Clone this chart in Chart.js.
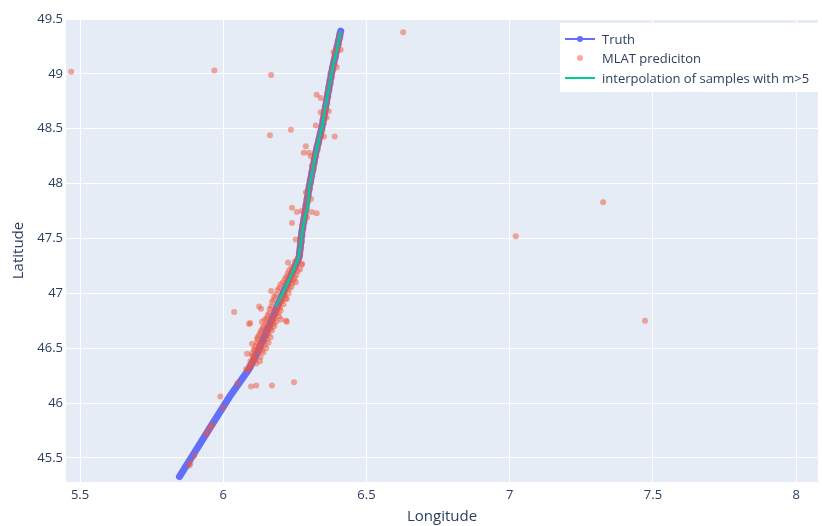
<!DOCTYPE html>
<html>
<head>
<meta charset="utf-8">
<script src="https://cdn.jsdelivr.net/npm/chart.js@4.4.1/dist/chart.umd.min.js"></script>
<style>
  html, body { margin: 0; padding: 0; background: #fff; overflow: hidden; }
</style>
</head>
<body>
<canvas id="chart" width="822" height="526"></canvas>
<script>
// ground truth track (lon, lat)
const truthLon = [5.847, 5.90, 5.96, 6.02, 6.09, 6.125, 6.195, 6.265, 6.274, 6.30, 6.323, 6.345, 6.378, 6.41];
const truthLat = [45.33, 45.55, 45.80, 46.05, 46.31, 46.49, 46.92, 47.33, 47.55, 47.97, 48.28, 48.52, 49.01, 49.39];

// interpolation of samples with m>5
const interpLon = [6.184, 6.215, 6.24, 6.262, 6.27, 6.278, 6.287, 6.296, 6.300, 6.312, 6.323, 6.345, 6.36, 6.378, 6.395, 6.41];
const interpLat = [46.88, 47.04, 47.18, 47.32, 47.45, 47.60, 47.72, 47.80, 47.97, 48.12, 48.28, 48.52, 48.75, 49.01, 49.20, 49.39];

// MLAT predictions sitting on the track
const mlatOnTrack = [
  [5.882,45.43],[5.885,45.45],[5.899,45.52],[5.941,45.72],[5.945,45.74],[5.955,45.78],[5.962,45.80],[6.000,45.96],[6.049,46.18],
  [6.085,46.30],[6.097,46.33],[6.098,46.36],[6.110,46.39],[6.108,46.42],[6.120,46.45],[6.121,46.48],[6.131,46.51],
  [6.130,46.54],[6.142,46.57],[6.140,46.60],[6.152,46.63],[6.150,46.66],[6.162,46.69],[6.160,46.72],[6.172,46.75],
  [6.170,46.78],[6.182,46.81],[6.180,46.84],[6.192,46.87],[6.190,46.90],[6.202,46.93],[6.200,46.96],[6.212,46.99],
  [6.210,47.02],[6.222,47.05],[6.220,47.08],[6.232,47.11],[6.230,47.14],[6.242,47.17],[6.240,47.20],[6.252,47.23],
  [6.250,47.26],[6.262,47.29],[6.260,47.32],[6.269,47.35],[6.264,47.38],[6.272,47.41],[6.267,47.44],[6.275,47.47],
  [6.269,47.50],[6.277,47.53],[6.272,47.56],[6.280,47.59],[6.275,47.62],[6.284,47.65],[6.279,47.68],[6.288,47.71],
  [6.283,47.74],[6.292,47.77],[6.286,47.80],[6.295,47.83],[6.290,47.86],[6.299,47.89],[6.294,47.92],[6.303,47.95],
  [6.298,47.98],[6.307,48.01],[6.302,48.04],[6.311,48.07],[6.307,48.10],[6.316,48.13],[6.311,48.16],[6.320,48.19],
  [6.316,48.22],[6.325,48.25],[6.320,48.28],[6.330,48.31],[6.325,48.34],[6.335,48.37],[6.331,48.40],[6.341,48.43],
  [6.336,48.46],[6.346,48.49],[6.342,48.52],[6.351,48.55],[6.346,48.58],[6.355,48.61],[6.350,48.64],[6.359,48.67],
  [6.354,48.70],[6.363,48.73],[6.358,48.76],[6.367,48.79],[6.362,48.82],[6.371,48.85],[6.366,48.88],[6.375,48.91],
  [6.370,48.94],[6.379,48.97],[6.374,49.00],[6.384,49.03],[6.379,49.06],[6.389,49.09],[6.384,49.12],[6.394,49.15],
  [6.389,49.18],[6.399,49.21],[6.394,49.24],[6.404,49.27],[6.399,49.30],[6.409,49.33],[6.404,49.36]
];

// MLAT predictions scattered close around the track
const mlatCloud = [
  [6.105,46.40],[6.128,46.38],[6.100,46.45],[6.140,46.46],[6.112,46.52],[6.150,46.50],[6.118,46.58],[6.158,46.55],
  [6.125,46.62],[6.165,46.60],[6.132,46.66],[6.170,46.66],[6.140,46.70],[6.178,46.70],[6.145,46.76],[6.185,46.74],
  [6.155,46.80],[6.195,46.79],[6.162,46.86],[6.200,46.84],[6.170,46.92],[6.210,46.90],[6.178,46.97],[6.218,46.95],
  [6.190,47.03],[6.228,47.00],[6.200,47.08],[6.238,47.06],[6.215,47.13],[6.245,47.12],[6.225,47.18],[6.255,47.17],
  [6.238,47.24],[6.268,47.22],[6.250,47.29],[6.275,47.27],
  [6.095,46.38],[6.115,46.36],[6.102,46.43],[6.130,46.42],[6.108,46.48],[6.135,46.48],[6.118,46.55],[6.145,46.53],
  [6.120,46.60],[6.152,46.58],[6.130,46.64],[6.158,46.63],[6.138,46.68],[6.165,46.68],[6.150,46.72],[6.175,46.72],
  [6.152,46.77],[6.180,46.77],[6.160,46.82],[6.190,46.82],[6.168,46.88],[6.198,46.87],[6.175,46.94],[6.205,46.93],
  [6.185,46.99],[6.215,46.98],[6.195,47.05],[6.230,47.04],[6.208,47.10],[6.240,47.09],[6.220,47.15],[6.250,47.14],
  [6.230,47.21],[6.260,47.20],
  [6.385,49.20],[6.410,49.22],[6.396,49.06],[6.326,48.81],[6.340,48.78],[6.340,48.65],[6.368,48.66],[6.361,48.60],
  [6.323,48.53],[6.351,48.43],[6.288,48.34],[6.281,48.28],[6.299,48.28],[6.306,48.25],[6.309,48.16],[6.288,47.92],
  [6.306,47.86],[6.240,47.78],[6.257,47.74],[6.274,47.75],[6.309,47.74],[6.326,47.73],[6.240,47.64],[6.292,47.69],
  [6.253,47.49],[6.274,47.26],[6.226,47.28],[6.253,47.10],[6.222,46.95],[6.167,47.02],[6.125,46.88],[6.132,46.86],
  [6.219,46.75],[6.222,46.74],[6.201,46.76],[6.135,46.74],[6.094,46.73],[6.090,46.72],[6.100,46.54],[6.108,46.49],
  [6.083,46.45],[6.125,46.52],[6.090,46.34],[6.080,46.31],[6.097,46.15],[6.115,46.16],[6.170,46.16],[6.247,46.19],
  [5.990,46.06],[6.038,46.83]
];

// MLAT predictions far off the track
const mlatOutliers = [
  [5.469,49.02],[5.969,49.03],[6.167,48.99],[6.628,49.38],[6.163,48.44],[6.236,48.49],[6.389,48.43],
  [7.326,47.83],[7.021,47.52],[7.472,46.75]
];

const xTicks = [5.5, 6, 6.5, 7, 7.5, 8];
const yTicks = [45.5, 46, 46.5, 47, 47.5, 48, 48.5, 49, 49.5];

const legendItems = ['Truth', 'MLAT prediciton', 'interpolation of samples with m>5'];

const toXY = (lons, lats) => lons.map((x, i) => ({ x: x, y: lats[i] }));
const pairsXY = pairs => pairs.map(p => ({ x: p[0], y: p[1] }));

const BLUE = '#636efa';
const RED = 'rgba(239,85,59,0.5)';
const GREEN = '#00cc96';
const TEXT = '#2a3f5f';
const FONT = "'Open Sans', 'Noto Sans', sans-serif";

Chart.defaults.font.family = FONT;
Chart.defaults.color = TEXT;

const plotBg = {
  id: 'plotBg',
  beforeDraw(chart) {
    const { ctx, chartArea: a } = chart;
    ctx.save();
    ctx.fillStyle = '#E5ECF6';
    ctx.fillRect(a.left, a.top, a.right - a.left, a.bottom - a.top);
    ctx.restore();
  }
};

const plotlyLegend = {
  id: 'plotlyLegend',
  afterDraw(chart) {
    const ctx = chart.ctx;
    ctx.save();
    ctx.fillStyle = '#ffffff';
    ctx.fillRect(560, 23, 280, 69);
    const rows = [39, 58, 78];
    ctx.font = '13px ' + FONT;
    ctx.textBaseline = 'middle';
    ctx.fillStyle = TEXT;
    legendItems.forEach((t, i) => ctx.fillText(t, 602, rows[i] + 1));
    // Truth: line + marker
    ctx.strokeStyle = BLUE; ctx.lineWidth = 2;
    ctx.beginPath(); ctx.moveTo(565, rows[0]); ctx.lineTo(595, rows[0]); ctx.stroke();
    ctx.fillStyle = BLUE;
    ctx.beginPath(); ctx.arc(580, rows[0], 3, 0, Math.PI * 2); ctx.fill();
    // MLAT marker
    ctx.fillStyle = RED;
    ctx.beginPath(); ctx.arc(580, rows[1], 3, 0, Math.PI * 2); ctx.fill();
    // interpolation line
    ctx.strokeStyle = GREEN;
    ctx.beginPath(); ctx.moveTo(565, rows[2]); ctx.lineTo(595, rows[2]); ctx.stroke();
    ctx.restore();
  }
};

new Chart(document.getElementById('chart'), {
  type: 'scatter',
  data: {
    datasets: [
      {
        label: legendItems[2],
        data: toXY(interpLon, interpLat),
        showLine: true,
        borderColor: GREEN,
        borderWidth: 2.5,
        pointRadius: 0,
        order: 0
      },
      {
        label: legendItems[1],
        data: pairsXY(mlatOnTrack.concat(mlatCloud, mlatOutliers)),
        backgroundColor: RED,
        borderWidth: 0,
        pointRadius: 3,
        order: 1
      },
      {
        label: legendItems[0],
        data: toXY(truthLon, truthLat),
        showLine: true,
        borderColor: BLUE,
        borderWidth: 7,
        borderCapStyle: 'round',
        borderJoinStyle: 'round',
        pointRadius: 0,
        order: 2
      }
    ]
  },
  options: {
    responsive: false,
    animation: false,
    layout: { padding: { left: 10, top: 19, right: 0, bottom: 0 } },
    plugins: { legend: { display: false }, tooltip: { enabled: false } },
    scales: {
      x: {
        type: 'linear',
        min: 5.451,
        max: 8.076,
        afterBuildTicks: axis => { axis.ticks = xTicks.map(v => ({ value: v })); },
        afterFit: scale => { scale.height = 44; },
        grid: { color: '#ffffff', lineWidth: 1, drawTicks: false },
        border: { display: false },
        ticks: { autoSkip: false, maxRotation: 0, padding: 5, font: { size: 13 }, color: TEXT, callback: v => String(v) },
        title: { display: true, text: 'Longitude', font: { size: 15 }, color: TEXT, padding: { top: 0, bottom: 0 } }
      },
      y: {
        type: 'linear',
        min: 45.28,
        max: 49.5,
        afterBuildTicks: axis => { axis.ticks = yTicks.map(v => ({ value: v })); },
        afterFit: scale => { scale.width = 56; },
        grid: { color: '#ffffff', lineWidth: 1, drawTicks: false },
        border: { display: false },
        ticks: { autoSkip: false, padding: 3, font: { size: 13 }, color: TEXT, callback: v => String(v) },
        title: { display: true, text: 'Latitude', font: { size: 15 }, color: TEXT, padding: { top: 0, bottom: 0 } }
      }
    }
  },
  plugins: [plotBg, plotlyLegend]
});
</script>
</body>
</html>
